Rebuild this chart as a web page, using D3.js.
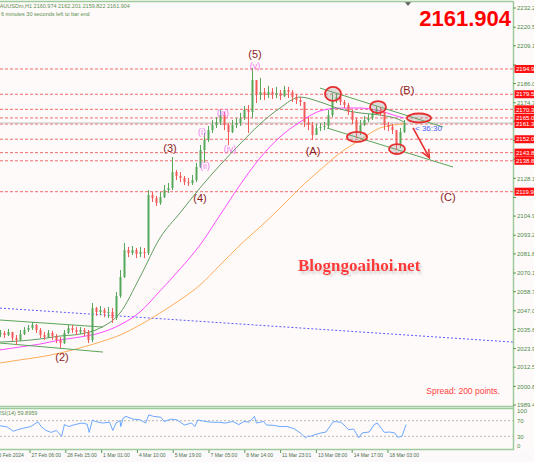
<!DOCTYPE html>
<html>
<head>
<meta charset="utf-8">
<script src="https://cdn.jsdelivr.net/npm/d3@7"></script>
<style>
  body { margin: 0; background: #fffafa; }
  svg { display: block; font-family: "Liberation Sans", Arial, sans-serif; }
</style>
</head>
<body>
<div id="chart"></div>
<script>
// XAUUSDm H1, one candle every 4 px (bar index)
var closes = [2033.5,2032.2,2034.1,2030.4,2029.2,2032.8,2035.3,2036.5,2038.4,2035.3,
  2032.2,2031.0,2033.5,2031.6,2029.2,2027.3,2033.5,2036.5,2035.3,2034.1,
  2035.3,2034.1,2029.2,2048.7,2046.3,2047.5,2045.7,2046.3,2042.6,2056.1,
  2067.7,2084.2,2082.4,2084.2,2081.8,2083.0,2082.4,2117.9,2116.0,2113.0,
  2116.6,2120.9,2122.2,2131.9,2129.5,2128.3,2125.8,2125.2,2127.0,2135.0,
  2145.4,2151.5,2157.6,2160.7,2162.5,2166.8,2160.7,2156.4,2160.7,2161.9,
  2165.0,2169.9,2168.7,2188.2,2179.1,2180.9,2179.1,2180.9,2179.1,2180.3,
  2178.4,2182.1,2180.9,2177.8,2176.0,2174.8,2162.5,2160.7,2154.6,2158.9,
  2159.5,2160.1,2166.8,2176.0,2177.8,2174.8,2172.9,2168.7,2163.8,2155.8,
  2160.7,2163.8,2165.0,2168.1,2169.9,2168.7,2160.7,2159.5,2157.6,2148.5,
  2156.4,2161.9];
var highs = [2035.3,2034.7,2035.9,2034.1,2032.2,2035.3,2037.1,2038.4,2040.2,2039.0,
  2036.5,2034.1,2035.3,2034.7,2032.8,2031.0,2035.3,2038.4,2038.4,2037.1,
  2037.1,2036.5,2035.3,2051.8,2049.4,2050.0,2048.7,2049.4,2048.7,2058.5,
  2072.0,2088.5,2086.1,2086.7,2085.5,2086.1,2085.5,2120.9,2119.7,2117.3,
  2119.7,2124.0,2125.2,2141.1,2133.2,2131.9,2129.5,2128.3,2130.1,2137.5,
  2148.5,2155.8,2160.1,2163.8,2165.6,2169.9,2168.7,2161.9,2163.8,2165.0,
  2168.1,2172.3,2172.9,2195.6,2187.0,2189.5,2183.3,2184.6,2183.3,2184.0,
  2182.1,2184.6,2184.0,2182.1,2179.7,2177.8,2174.8,2165.6,2162.5,2161.3,
  2161.9,2162.5,2169.9,2180.3,2180.3,2178.4,2176.0,2174.2,2169.9,2165.0,
  2163.8,2166.2,2167.4,2170.5,2172.3,2171.7,2168.7,2162.5,2161.3,2157.6,
  2158.9,2163.8];
var lows = [2031.0,2030.4,2031.6,2028.6,2026.1,2028.6,2032.2,2034.1,2035.3,2033.5,
  2030.4,2029.2,2030.4,2029.2,2027.3,2024.3,2026.7,2032.8,2033.5,2032.2,
  2032.8,2031.6,2027.3,2027.9,2043.9,2044.5,2043.2,2042.6,2039.6,2041.4,
  2054.9,2067.1,2079.9,2081.2,2079.3,2079.9,2079.3,2081.2,2113.6,2111.2,
  2111.8,2116.0,2119.1,2120.9,2127.0,2125.8,2124.0,2123.4,2124.0,2125.8,
  2134.4,2137.5,2150.3,2155.8,2158.9,2160.7,2157.6,2148.5,2155.8,2158.9,
  2160.1,2163.8,2155.8,2165.0,2174.2,2176.0,2176.0,2177.2,2176.6,2177.2,
  2176.0,2177.8,2177.2,2174.8,2173.6,2172.3,2159.5,2157.6,2151.5,2155.8,
  2157.0,2157.6,2158.9,2165.6,2174.2,2172.9,2171.1,2166.8,2161.3,2152.7,
  2154.6,2160.1,2162.5,2163.8,2166.8,2166.2,2157.6,2157.0,2155.2,2145.4,
  2146.6,2155.8];
var firstOpen = 2032.8;
var lastPrice = 2161.904;

// moving averages sampled at these bars
var maBars = [0,5,10,15,20,25,30,35,40,45,50,55,60,65,70,75,80,85,90,95,100,101];
var maFast = [2027.9,2028.6,2029.8,2031.6,2032.8,2036.5,2045.7,2067.7,2091.6,2106.9,
  2122.2,2136.2,2149.1,2161.3,2171.1,2177.8,2174.8,2170.5,2168.1,2166.8,2163.8,2162.5];
var maMid = [2023.1,2024.9,2026.7,2029.2,2031.0,2033.5,2038.4,2046.3,2059.2,2072.6,
  2087.3,2105.6,2124.0,2140.5,2153.4,2162.5,2169.3,2171.1,2171.1,2169.3,2165.6,2165.0];
var maSlow = [2015.1,2017.0,2018.8,2021.2,2024.3,2027.9,2032.2,2038.4,2045.7,2053.7,
  2062.8,2075.0,2087.3,2098.3,2109.9,2122.2,2133.2,2143.6,2151.5,2158.9,2161.3,2161.9];

// horizontal levels (red labels on the axis)
var levels = [2194.98, 2179.52, 2170.30, 2165.03, 2161.30, 2152.01, 2143.80, 2138.82, 2119.90];
var priceTicks = [2232.29,2220.56,2209.18,2197.45,2186.06,2174.33,2162.95,2151.22,2139.84,2128.10,
  2116.37,2104.99,2093.26,2081.87,2070.14,2058.76,2047.03,2035.64,2023.91,2012.53,2000.80,1989.41];

// trend lines: [bar, price, bar, price]
var greenLines = [[0,2041.4,25.75,2037.1],[0,2027.3,25.75,2021.8],
  [80,2183.3,110.75,2159.5],[81.75,2158.9,113.25,2135.0]];
var blueLine = [0,2048.7,128.25,2027.9];
var arrowLine = [103.25,2158.9,107.25,2141.1];

// circled turning points [bar, price]
var circles = [[83.25,2179.7],[89.25,2153.4],[94.5,2171.7],[99.25,2146.0],[104.75,2165.0]];

// wave counts
var waveText = ["(5)","(3)","(4)","(2)","(A)","(B)","(C)"];
var waveBar = [63.75,42.5,50,15.5,78.25,101.75,112];
var wavePrice = [2204.1,2146.6,2116.0,2018.8,2144.8,2182.1,2116.6];
var subText = ["(v)","(i)","(ii)","(iii)","(iv)"];
var subBar = [63.75,50.5,51.25,55.75,57.5];
var subPrice = [2196.8,2156.4,2135.6,2168.1,2146.0];

var dateBars = [-1.45,7.5,16.45,25.4,34.35,43.3,52.25,61.2,70.15,79.1,88.05,97];
var dateLabels = ["26 Feb 2024","27 Feb 06:00","28 Feb 15:00","1 Mar 01:00","4 Mar 10:00",
  "5 Mar 19:00","7 Mar 05:00","8 Mar 14:00","11 Mar 23:01","13 Mar 08:00","14 Mar 17:00","18 Mar 03:00"];

var rsiBars = [0,1.8,3.3,4.4,5.9,7.7,9.0,9.5,10.3,11.5,12.8,14.1,15.4,16.1,17.2,18.7,20.5,21.8,
  22.3,23.1,23.8,25.6,27.4,28.2,29.0,30.0,30.2,30.8,31.5,33.3,35.1,36.4,37.2,38.4,40.2,41.0,
  42.8,44.3,46.1,47.9,48.7,49.5,51.3,53.0,54.6,56.4,58.2,59.7,61.0,62.3,63.6,64.1,65.9,66.6,
  68.4,70.0,71.8,73.5,75.1,76.4,76.9,77.6,78.7,80.2,81.5,82.0,83.3,84.1,85.3,86.4,87.1,88.4,
  89.7,90.5,92.3,93.5,94.3,95.3,96.1,97.4,98.7,99.4,100.5,101.5];
var rsiVals = [57,54,43,47,51,55,64,67,55,45,40,45,30,60,55,60,64,61,
  40,72,68,64,66,45,64,70,55,77,81,74,72,64,85,81,79,68,
  74,72,59,64,55,72,68,66,66,64,68,60,68,66,81,64,68,59,
  58,55,55,49.5,38.5,25.8,30,30,34,38.5,41,48.7,67.4,67.4,66,55,47,48.7,
  26,38.5,41,59.7,64,51,40,41,38.5,27.5,30,59.9];

var width = 534, height = 462;
var plotRight = 513, plotTop = 2, plotBottom = 406;

var svg = d3.select("#chart").append("svg")
    .attr("width", width)
    .attr("height", height);

svg.append("rect").attr("width", width).attr("height", height).attr("fill", "#fffafa");
svg.append("rect").attr("y", 451).attr("width", width).attr("height", 11).attr("fill", "#fbf9f9");

var x = d3.scaleLinear().domain([0, 128]).range([0, 512]);
var y = d3.scaleLinear().domain([1989.41, 2232.29]).range([405, 8]);
var ry = d3.scaleLinear().domain([0, 100]).range([448, 409]);

var defs = svg.append("defs");
defs.append("clipPath").attr("id", "plot-clip")
  .append("rect").attr("x", 0).attr("y", plotTop).attr("width", plotRight).attr("height", plotBottom - plotTop);

var plot = svg.append("g").attr("clip-path", "url(#plot-clip)");

// dashed red levels
plot.selectAll(".level")
    .data(levels)
    .enter().append("line")
    .attr("x1", 0).attr("x2", plotRight)
    .attr("y1", function(d) { return y(d); })
    .attr("y2", function(d) { return y(d); })
    .attr("stroke", "#f06a6a")
    .attr("stroke-width", 1)
    .attr("stroke-dasharray", "3,2");

// bid line
plot.append("line")
    .attr("x1", 0).attr("x2", plotRight)
    .attr("y1", y(lastPrice)).attr("y2", y(lastPrice))
    .attr("stroke", "#bdbdbd");

// blue dotted line
plot.append("line")
    .attr("x1", x(blueLine[0])).attr("y1", y(blueLine[1]))
    .attr("x2", x(blueLine[2])).attr("y2", y(blueLine[3]))
    .attr("stroke", "#5a5aff")
    .attr("stroke-dasharray", "2,2");

// moving averages
var maLine = d3.line()
    .x(function(d, i) { return x(maBars[i]); })
    .y(function(d) { return y(d); })
    .curve(d3.curveMonotoneX);

plot.append("path").attr("d", maLine(maSlow)).attr("fill", "none").attr("stroke", "#ffae5c").attr("stroke-width", 1);
plot.append("path").attr("d", maLine(maMid)).attr("fill", "none").attr("stroke", "#ff4dff").attr("stroke-width", 1);
plot.append("path").attr("d", maLine(maFast)).attr("fill", "none").attr("stroke", "#5f9c5f").attr("stroke-width", 1);

// trend lines
plot.selectAll(".trend")
    .data(greenLines)
    .enter().append("line")
    .attr("x1", function(d) { return x(d[0]); })
    .attr("y1", function(d) { return y(d[1]); })
    .attr("x2", function(d) { return x(d[2]); })
    .attr("y2", function(d) { return y(d[3]); })
    .attr("stroke", "#5aa55a")
    .attr("stroke-width", 1);

// candles
var opens = closes.map(function(c, i) { return i === 0 ? firstOpen : closes[i - 1]; });
var candle = plot.selectAll(".candle")
    .data(closes)
    .enter().append("g")
    .attr("class", "candle")
    .attr("fill", function(d, i) { return d >= opens[i] ? "#55a85a" : "#f25a5a"; })
    .attr("stroke", function(d, i) { return d >= opens[i] ? "#55a85a" : "#f25a5a"; });

candle.append("line")
    .attr("x1", function(d, i) { return x(i) + 0.5; })
    .attr("x2", function(d, i) { return x(i) + 0.5; })
    .attr("y1", function(d, i) { return y(highs[i]); })
    .attr("y2", function(d, i) { return y(lows[i]); })
    .attr("stroke-width", 1);

candle.append("rect")
    .attr("stroke", "none")
    .attr("x", function(d, i) { return x(i) - 0.5; })
    .attr("width", 2)
    .attr("y", function(d, i) { return y(Math.max(d, opens[i])); })
    .attr("height", function(d, i) { return Math.max(1, Math.abs(y(d) - y(opens[i]))); });

// circled points
plot.selectAll(".mark")
    .data(circles)
    .enter().append("ellipse")
    .attr("cx", function(d) { return x(d[0]); })
    .attr("cy", function(d) { return y(d[1]); })
    .attr("rx", function(d, i) { return [8, 10, 8, 8, 12][i]; })
    .attr("ry", function(d, i) { return [7, 5, 6, 5, 4.5][i]; })
    .attr("fill", "rgba(150,150,150,0.3)")
    .attr("stroke", "#e62e2e")
    .attr("stroke-width", 1.8);

// arrow down to (C)
defs.append("marker")
    .attr("id", "head")
    .attr("viewBox", "0 0 10 10")
    .attr("refX", 8).attr("refY", 5)
    .attr("markerWidth", 6).attr("markerHeight", 6)
    .attr("orient", "auto")
    .append("path").attr("d", "M0,1 L9,5 L0,9").attr("fill", "none").attr("stroke", "#e62e2e").attr("stroke-width", 1.5);

plot.append("line")
    .attr("x1", x(arrowLine[0])).attr("y1", y(arrowLine[1]))
    .attr("x2", x(arrowLine[2])).attr("y2", y(arrowLine[3]))
    .attr("stroke", "#e62e2e")
    .attr("stroke-width", 1.6)
    .attr("marker-end", "url(#head)");

plot.append("text")
    .attr("x", x(arrowLine[0]) + 2).attr("y", y(arrowLine[1]) + 3)
    .attr("font-size", 8).attr("fill", "#3d5cff")
    .text("< 36:30");

// wave labels
plot.selectAll(".wave")
    .data(waveText)
    .enter().append("text")
    .attr("x", function(d, i) { return x(waveBar[i]); })
    .attr("y", function(d, i) { return y(wavePrice[i]); })
    .attr("text-anchor", "middle")
    .attr("dominant-baseline", "central")
    .attr("font-size", 11)
    .attr("fill", "#8b2323")
    .text(String);

plot.selectAll(".sub")
    .data(subText)
    .enter().append("text")
    .attr("x", function(d, i) { return x(subBar[i]); })
    .attr("y", function(d, i) { return y(subPrice[i]); })
    .attr("text-anchor", "middle")
    .attr("dominant-baseline", "central")
    .attr("font-size", 9)
    .attr("fill", "#ee77ee")
    .text(String);

// watermark with soft shadow
var blur = defs.append("filter").attr("id", "soft");
blur.append("feOffset").attr("dx", 2).attr("dy", 3).attr("result", "off");
blur.append("feGaussianBlur").attr("in", "off").attr("stdDeviation", 1.2).attr("result", "b");
blur.append("feColorMatrix").attr("in", "b").attr("type", "matrix")
    .attr("values", "0 0 0 0 0.5  0 0 0 0 0.5  0 0 0 0 0.5  0 0 0 0.6 0").attr("result", "sh");
var merge = blur.append("feMerge");
merge.append("feMergeNode").attr("in", "sh");
merge.append("feMergeNode").attr("in", "SourceGraphic");

svg.append("text")
    .attr("x", 298).attr("y", 271)
    .attr("font-family", "'Liberation Serif', 'DejaVu Serif', serif")
    .attr("font-weight", "bold").attr("font-size", 17)
    .attr("fill", "#ff3838")
    .attr("filter", "url(#soft)")
    .text("Blogngoaihoi.net");

svg.append("text")
    .attr("x", 500).attr("y", 394)
    .attr("text-anchor", "end")
    .attr("font-size", 8.5)
    .attr("fill", "#ff4040")
    .text("Spread: 200 points.");

svg.append("text")
    .attr("x", 511).attr("y", 26)
    .attr("text-anchor", "end")
    .attr("font-size", 22).attr("font-weight", "bold")
    .attr("fill", "#ff0000")
    .text(lastPrice.toFixed(3));

// header
svg.append("text").attr("x", -4).attr("y", 8).attr("font-size", 5.5).attr("fill", "#5a8f4f")
    .text("XAUUSDm,H1  2160.974 2162.201 2159.822 " + lastPrice.toFixed(3));
svg.append("text").attr("x", 1).attr("y", 16).attr("font-size", 5.5).attr("fill", "#5a8f4f")
    .text("6 minutes 30 seconds left to bar end");

svg.append("path").attr("d", "M404,1 L412,1 L408,6 Z").attr("fill", "#666");

// frames
var frame = "#9ccc9c";
svg.append("line").attr("x1", 0).attr("x2", plotRight).attr("y1", 1.5).attr("y2", 1.5).attr("stroke", frame).attr("stroke-width", 1.5);
svg.append("line").attr("x1", 0).attr("x2", plotRight + 1).attr("y1", 406.5).attr("y2", 406.5).attr("stroke", frame).attr("stroke-width", 1.5);
svg.append("line").attr("x1", 0).attr("x2", plotRight + 1).attr("y1", 408.5).attr("y2", 408.5).attr("stroke", frame).attr("stroke-width", 1.5);
svg.append("line").attr("x1", 0).attr("x2", plotRight + 1).attr("y1", 449.5).attr("y2", 449.5).attr("stroke", frame).attr("stroke-width", 1.5);
svg.append("line").attr("x1", plotRight + 0.5).attr("x2", plotRight + 0.5).attr("y1", 1).attr("y2", 450).attr("stroke", frame).attr("stroke-width", 1.5);

// price axis, labels under the red boxes are left out
var axisG = svg.append("g");
var freeTicks = priceTicks.filter(function(t) {
  return levels.every(function(l) { return Math.abs(y(l) - y(t)) > 6; });
});
axisG.selectAll(".tick")
    .data(priceTicks)
    .enter().append("line")
    .attr("x1", plotRight).attr("x2", plotRight + 3)
    .attr("y1", function(d) { return y(d); })
    .attr("y2", function(d) { return y(d); })
    .attr("stroke", "#5a9a5a");
axisG.selectAll(".tl")
    .data(freeTicks)
    .enter().append("text")
    .attr("x", plotRight + 4)
    .attr("y", function(d) { return y(d) + 2.2; })
    .attr("font-size", 6)
    .attr("fill", "#4b8b4b")
    .text(function(d) { return d.toFixed(2); });

var lvl = axisG.selectAll(".lvl")
    .data(levels)
    .enter().append("g");
lvl.append("rect")
    .attr("x", plotRight + 1.5).attr("width", 22)
    .attr("y", function(d) { return y(d) - 4; })
    .attr("height", 8)
    .attr("fill", "#ff1010");
lvl.append("text")
    .attr("x", plotRight + 3)
    .attr("y", function(d) { return y(d) + 2.2; })
    .attr("font-size", 6)
    .attr("fill", "#ffffff")
    .text(function(d) { return d.toFixed(2); });

// RSI panel
svg.selectAll(".rsiLevel")
    .data([70, 30])
    .enter().append("line")
    .attr("x1", 0).attr("x2", plotRight)
    .attr("y1", function(d) { return ry(d); })
    .attr("y2", function(d) { return ry(d); })
    .attr("stroke", "#b8b8b8")
    .attr("stroke-dasharray", "2,2");

var rsiLine = d3.line()
    .x(function(d, i) { return x(rsiBars[i]); })
    .y(function(d) { return ry(d); });
svg.append("path").attr("d", rsiLine(rsiVals)).attr("fill", "none").attr("stroke", "#6aa8ff").attr("stroke-width", 1);

svg.append("text").attr("x", -3).attr("y", 415).attr("font-size", 5.5).attr("fill", "#5a8f4f")
    .text("RSI(14) 59.8959");

svg.selectAll(".rsiTick")
    .data([100, 70, 30, 0])
    .enter().append("text")
    .attr("x", plotRight + 4)
    .attr("y", function(d) { return ry(d) + (d === 100 ? 3.5 : d === 0 ? 0 : 2.2); })
    .attr("font-size", 6)
    .attr("fill", "#4b8b4b")
    .text(String);

// time axis
var dates = svg.append("g");
dates.selectAll("line")
    .data(dateBars)
    .enter().append("line")
    .attr("x1", function(d) { return x(d); })
    .attr("x2", function(d) { return x(d); })
    .attr("y1", 450).attr("y2", 453)
    .attr("stroke", "#5a9a5a");
dates.selectAll("text")
    .data(dateLabels)
    .enter().append("text")
    .attr("x", function(d, i) { return x(dateBars[i]) + 1.5; })
    .attr("y", 457)
    .attr("font-size", 5)
    .attr("fill", "#4f6f4f")
    .text(String);
</script>
</body>
</html>
